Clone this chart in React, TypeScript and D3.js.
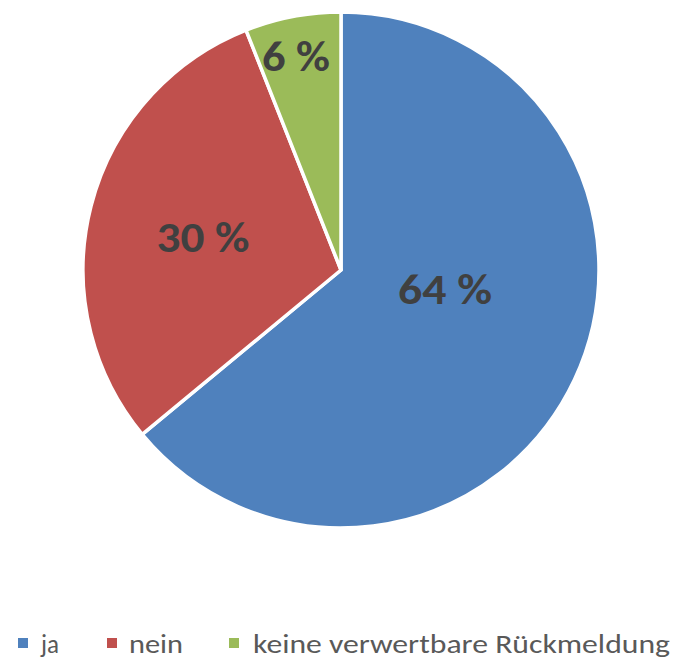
import React from "react";
import * as d3 from "d3";

const categories = ["ja", "nein", "keine verwertbare Rückmeldung"];
const values = [64, 30, 6];
const labels = ["64 %", "30 %", "6 %"];
const colors = ["#4F81BD", "#C0504D", "#9BBB59"];

export default function App() {
  const W = 680, H = 660;
  const cx = 341, cy = 270, r = 258;
  const pie = d3.pie<number>().sort(null).value((d) => d)(values);
  const arc = d3.arc<d3.PieArcDatum<number>>().innerRadius(0).outerRadius(r);
  const labelPos = [
    [445, 289],
    [203, 237],
    [296, 56],
  ];
  const labelW = [94, 93, 68];
  const legendSq = [18, 107, 229];
  const legendTx = [41, 129, 253];
  const legendW = [18, 54, 417];
  const font = "Carlito, 'Open Sans', 'Noto Sans', sans-serif";
  return (
    <svg width={W} height={H} style={{ position: "absolute", left: 0, top: 0, background: "#fff" }}>
      <g transform={`translate(${cx},${cy})`}>
        {pie.map((p, i) => (
          <path key={i} d={arc(p) || ""} fill={colors[i]} stroke="#fff" strokeWidth={3.5} strokeLinejoin="round" />
        ))}
      </g>
      {pie.map((p, i) => (
        <text
          key={"l" + i}
          x={labelPos[i][0] - labelW[i] / 2}
          y={labelPos[i][1]}
          dominantBaseline="central"
          fontFamily={font}
          fontWeight="bold"
          fontSize={42}
          fill="#404040"
          textLength={labelW[i]}
          lengthAdjust="spacingAndGlyphs"
        >
          {labels[i]}
        </text>
      ))}
      {categories.map((c, i) => (
        <g key={"g" + i}>
          <rect x={legendSq[i]} y={638} width={10} height={10} fill={colors[i]} />
          <text
            x={legendTx[i]}
            y={653}
            fontFamily={font}
            fontSize={27}
            fill="#595959"
            textLength={legendW[i]}
            lengthAdjust="spacingAndGlyphs"
          >
            {c}
          </text>
        </g>
      ))}
    </svg>
  );
}
